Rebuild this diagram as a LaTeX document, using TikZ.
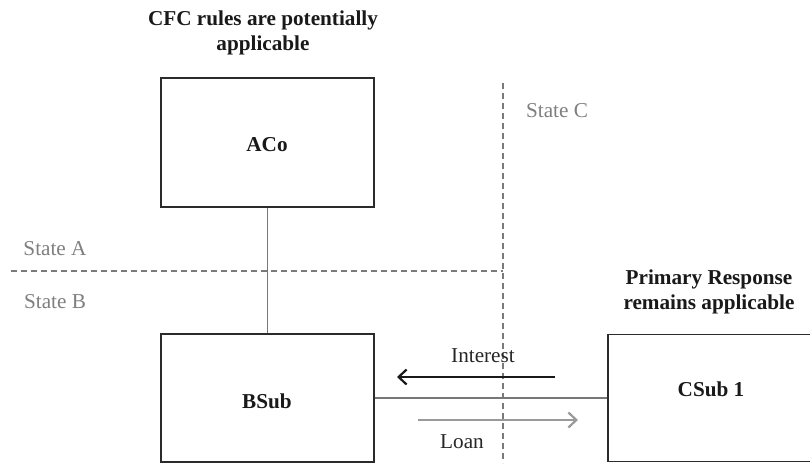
\documentclass[tikz,border=0pt]{standalone}
\usepackage{fontspec}
\setmainfont{Liberation Serif}
\usetikzlibrary{arrows.meta}
\definecolor{boxline}{HTML}{2B2B2B}
\definecolor{conn}{HTML}{777777}
\definecolor{dashc}{HTML}{7A7A7A}
\definecolor{statec}{HTML}{7F7F7F}
\definecolor{loanc}{HTML}{9A9A9A}
\begin{document}
\begin{tikzpicture}[x=0.5pt,y=-0.5pt,
  entity/.style={draw=boxline,line width=0.65pt,minimum width=106.5pt,inner sep=0pt},
  title/.style={font=\fontsize{10.6}{12.5}\selectfont\bfseries,align=center,text=black!90},
  statelbl/.style={font=\fontsize{10.6}{12.5}\selectfont,text=statec},
  flowlbl/.style={font=\fontsize{10.6}{12.5}\selectfont,text=black!85},
  link/.style={draw=conn,line width=0.65pt},
  border/.style={draw=dashc,line width=0.6pt,dash pattern=on 3pt off 2pt}]
\clip (0,0) rectangle (810,463);
\fill[white] (0,0) rectangle (810,463);
% boxes
\node[entity,minimum height=64.5pt] (aco) at (267.5,142.5) {};
\node[entity,minimum height=64pt] (bsub) at (267.5,398) {};
\node[entity,minimum width=115pt,minimum height=63.5pt] (csub) at (723,398) {};
% box texts
\node[title] (acot) at (267,145) {ACo};
\node[title] (bsubt) at (267,401) {BSub};
\node[title] (csubt) at (711,389) {CSub 1};
% titles
\node[title] (cfc) at (263,33) {CFC rules are potentially\\applicable};
\node[title] (prim) at (709,292) {Primary Response\\remains applicable};
% state borders
\coordinate (vtop) at (503,83);
\coordinate (vbot) at (503,463);
\coordinate (hleft) at (11,271);
\coordinate (hright) at (503,271);
\draw[border] (vtop) -- (vbot);
\draw[border] (hleft) -- (hright);
\node[statelbl] (sa) at (55,249) {State A};
\node[statelbl] (sb) at (55,302) {State B};
\node[statelbl] (sc) at (557,111) {State C};
% connectors
\draw[link] (aco.south) -- (bsub.north);
\draw[link] (bsub.east) -- (csub.west);
% flows
\coordinate (is) at (555,377);
\coordinate (ie) at (397,377);
\coordinate (ls) at (418,420);
\coordinate (le) at (578,420);
\draw[black!90,line width=0.85pt,-{Straight Barb[length=4pt,width=7.5pt,line width=1.1pt]}] (is) -- (ie);
\draw[loanc,line width=0.85pt,-{Straight Barb[length=4pt,width=7.5pt,line width=1.1pt]}] (ls) -- (le);
\node[flowlbl] (it) at (483,356) {Interest};
\node[flowlbl] (lt) at (462,442) {Loan};
\end{tikzpicture}
\end{document}
